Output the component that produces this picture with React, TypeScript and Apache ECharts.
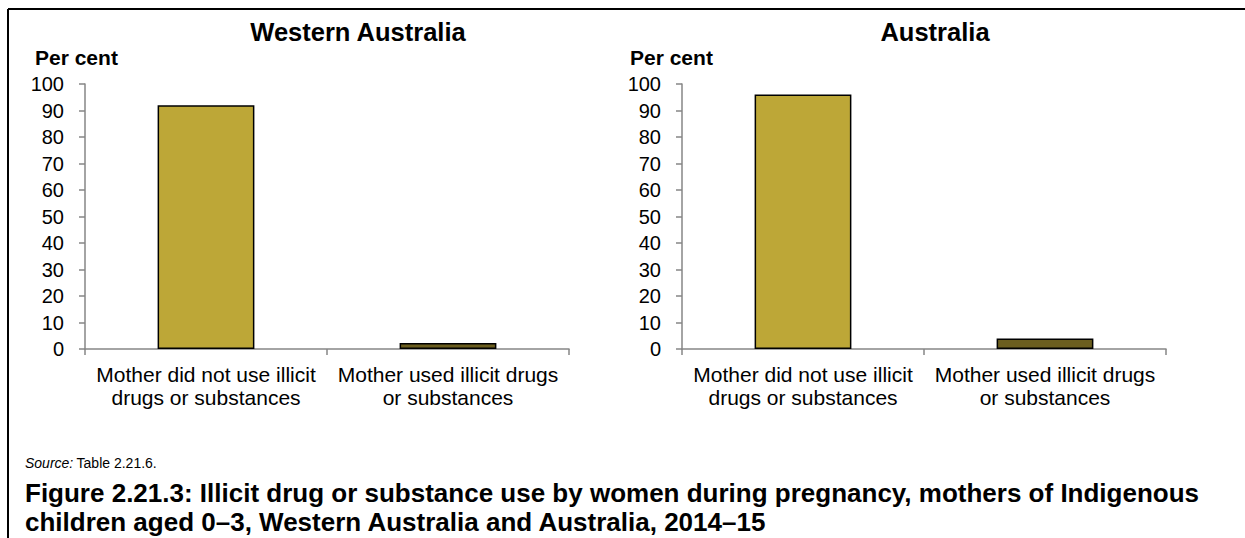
import React, { useEffect, useRef } from "react";
import * as echarts from "echarts";

const categories = [
  "Mother did not use illicit\ndrugs or substances",
  "Mother used illicit drugs\nor substances",
];
const waValues = [92, 2.3];
const ausValues = [96, 4];
const panelTitles = ["Western Australia", "Australia"];
const yTicks = { min: 0, max: 100, interval: 10 };
const axisName = "Per cent";
const sourceNote = "Table 2.21.6.";
const captionLines = [
  "Figure 2.21.3: Illicit drug or substance use by women during pregnancy, mothers of Indigenous",
  "children aged 0\u20133, Western Australia and Australia, 2014\u201315",
];
const barColors = ["#BDA737", "#6B5E1F"];

const FONT = "Liberation Sans, Arial, sans-serif";

export default function App() {
  const ref = useRef<HTMLDivElement>(null);

  useEffect(() => {
    document.body.style.margin = "0";
    if (!ref.current) return;
    const chart = echarts.init(ref.current, null, { renderer: "svg" });

    const grids = [
      { left: 85, top: 84, width: 484, height: 265 },
      { left: 682, top: 84, width: 484, height: 265 },
    ];

    const xAxes = grids.map((_, i) => ({
      type: "category",
      gridIndex: i,
      data: categories,
      boundaryGap: true,
      axisLine: { show: true, lineStyle: { color: "#868686", width: 1.5 } },
      axisTick: { show: true, length: 6, lineStyle: { color: "#868686", width: 1.5 } },
      axisLabel: {
        color: "#000",
        fontFamily: FONT,
        fontSize: 21,
        lineHeight: 23,
        margin: 14,
        interval: 0,
      },
      splitLine: { show: false },
    }));

    const yAxes = grids.map((_, i) => ({
      type: "value",
      gridIndex: i,
      min: yTicks.min,
      max: yTicks.max,
      interval: yTicks.interval,
      axisLine: { show: true, lineStyle: { color: "#868686", width: 1.5 } },
      axisTick: { show: true, length: 6, lineStyle: { color: "#868686", width: 1.5 } },
      axisLabel: { color: "#000", fontFamily: FONT, fontSize: 20, margin: 21 },
      splitLine: { show: false },
    }));

    const makeData = (vals: number[]) =>
      vals.map((v, j) => ({ value: v, itemStyle: { color: barColors[j] } }));

    const series = [waValues, ausValues].map((vals, i) => ({
      type: "bar",
      xAxisIndex: i,
      yAxisIndex: i,
      data: makeData(vals),
      barWidth: "40%",
      itemStyle: { borderColor: "#000", borderWidth: 1.5 },
    }));

    const titleCenters = [358, 935];
    const perCentX = [35, 630];

    const graphic: any[] = [
      { type: "line", shape: { x1: 8, y1: 9, x2: 1245, y2: 9 }, style: { stroke: "#000", lineWidth: 2 } },
      { type: "line", shape: { x1: 8, y1: 9, x2: 8, y2: 538 }, style: { stroke: "#000", lineWidth: 2 } },
    ];
    panelTitles.forEach((t, i) => {
      graphic.push({
        type: "text",
        x: titleCenters[i],
        y: 32,
        style: {
          text: t,
          fontFamily: FONT,
          fontSize: 25.5,
          fontWeight: "bold",
          fill: "#000",
          textAlign: "center",
          textVerticalAlign: "middle",
        },
      });
      graphic.push({
        type: "text",
        x: perCentX[i],
        y: 57,
        style: {
          text: axisName,
          fontFamily: FONT,
          fontSize: 21,
          fontWeight: "bold",
          fill: "#000",
          textAlign: "left",
          textVerticalAlign: "middle",
        },
      });
    });
    graphic.push({
      type: "text",
      x: 25,
      y: 463,
      style: {
        text: "{i|Source:} {n|" + sourceNote + "}",
        rich: {
          i: { fontFamily: FONT, fontSize: 14, fontStyle: "italic", fill: "#000" },
          n: { fontFamily: FONT, fontSize: 14, fill: "#000" },
        },
        textAlign: "left",
        textVerticalAlign: "middle",
      },
    });
    graphic.push({
      type: "text",
      x: 25,
      y: 478,
      style: {
        text: captionLines.join("\n"),
        fontFamily: FONT,
        fontSize: 26,
        lineHeight: 29.5,
        fontWeight: "bold",
        fill: "#000",
        textAlign: "left",
        textVerticalAlign: "top",
      },
    });

    chart.setOption({
      animation: false,
      backgroundColor: "#fff",
      grid: grids,
      xAxis: xAxes,
      yAxis: yAxes,
      series,
      graphic,
    } as any);

    return () => chart.dispose();
  }, []);

  return <div ref={ref} style={{ width: 1245, height: 538 }} />;
}
